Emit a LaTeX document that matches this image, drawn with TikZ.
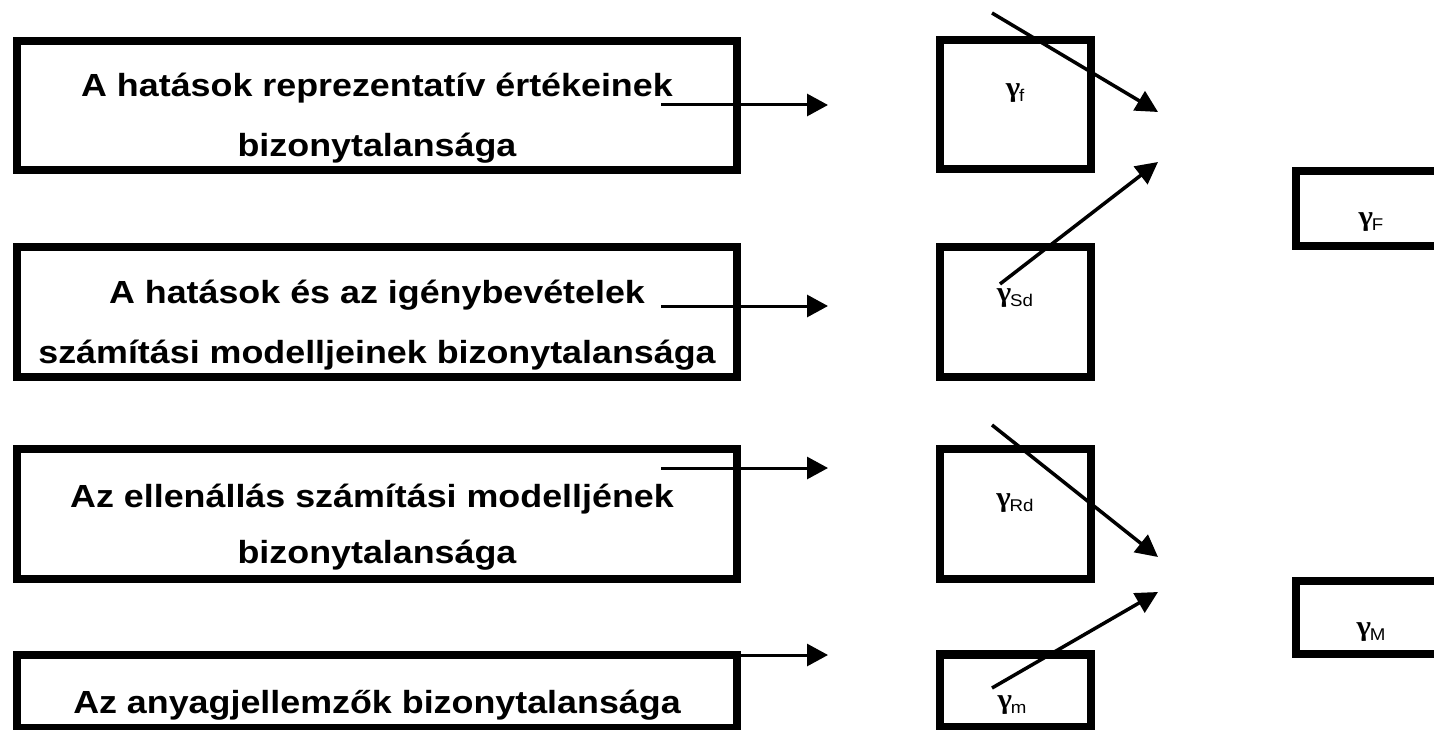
\documentclass[tikz,border=0pt]{standalone}
\usepackage{fontspec}
\setmainfont{Liberation Sans}
\newfontfamily\gammafont{Liberation Serif}
\usetikzlibrary{arrows.meta}
\newcommand{\widetxt}[1]{\scalebox{1.12}[1]{#1}}
\newcommand{\gsym}[1]{\scalebox{1.1}[1]{{\gammafont\fontsize{28}{28}\selectfont\bfseries γ}\kern-1pt\raisebox{-5pt}{\fontsize{17}{17}\selectfont #1}}}
\begin{document}
\begin{tikzpicture}[x=1pt,y=-1pt,
  box/.style={draw=black, line width=8.5pt, inner sep=0pt, outer sep=0pt},
  txt/.style={font=\fontsize{32}{32}\selectfont\bfseries, inner sep=0pt, anchor=base},
  glab/.style={inner sep=0pt},
  harr/.style={line width=3pt, -{Triangle[length=21pt,width=22pt]}},
  darr/.style={line width=3.5pt, -{Triangle[length=22pt,width=22pt]}}]
\useasboundingbox (0,0) rectangle (1434,730);
\fill[white] (0,0) rectangle (1434,730);
\clip (0,0) rectangle (1434,730);

% left boxes
\node[box, minimum width=720pt, minimum height=129pt] (L1) at (377,105.5) {};
\node[box, minimum width=720pt, minimum height=130pt] (L2) at (377,312) {};
\node[box, minimum width=720pt, minimum height=130pt] (L3) at (377,514) {};
\node[box, minimum width=720pt, minimum height=73pt] (L4) at (377,691.5) {};

% gamma boxes
\node[box, minimum width=151pt, minimum height=129pt] (G1) at (1015.5,104.5) {};
\node[box, minimum width=151pt, minimum height=130pt] (G2) at (1015.5,312) {};
\node[box, minimum width=151pt, minimum height=130pt] (G3) at (1015.5,514) {};
\node[box, minimum width=151pt, minimum height=73pt] (G4) at (1015.5,691) {};

% right boxes
\node[box, minimum width=204pt, minimum height=75pt] (R1) at (1398,208.5) {};
\node[box, minimum width=204pt, minimum height=73pt] (R2) at (1398,617.5) {};

% texts
\node[txt] (t1a) at (377,97) {\widetxt{A hatások reprezentatív értékeinek}};
\node[txt] (t1b) at (377,157) {\widetxt{bizonytalansága}};
\node[txt] (t2a) at (377,303) {\widetxt{A hatások és az igénybevételek}};
\node[txt] (t2b) at (377,363) {\widetxt{számítási modelljeinek bizonytalansága}};
\node[txt] (t3a) at (372,507) {\widetxt{Az ellenállás számítási modelljének}};
\node[txt] (t3b) at (377,563) {\widetxt{bizonytalansága}};
\node[txt] (t4a) at (377,713) {\widetxt{Az anyagjellemzők bizonytalansága}};

% gamma labels
\node[glab] (gf) at (1015,93) {\gsym{f}};
\node[glab] (gSd) at (1015,298) {\gsym{Sd}};
\node[glab] (gRd) at (1015,503) {\gsym{Rd}};
\node[glab] (gm) at (1012,705) {\gsym{m}};
\node[glab] (gF) at (1371,222) {\gsym{F}};
\node[glab] (gM) at (1371,632) {\gsym{M}};

% coordinates for arrows
\coordinate (h1s) at (661,105);  \coordinate (h1e) at (828,105);
\coordinate (h2s) at (661,306);  \coordinate (h2e) at (828,306);
\coordinate (h3s) at (661,468);  \coordinate (h3e) at (828,468);
\coordinate (h4s) at (661,655);  \coordinate (h4e) at (828,655);
\coordinate (d1s) at (992,13);   \coordinate (d1e) at (1158,112);
\coordinate (d2s) at (1000,284); \coordinate (d2e) at (1158,162);
\coordinate (d3s) at (992,425);  \coordinate (d3e) at (1158,557);
\coordinate (d4s) at (992,688);  \coordinate (d4e) at (1158,592);

\draw[harr] (h1s) -- (h1e);
\draw[harr] (h2s) -- (h2e);
\draw[harr] (h3s) -- (h3e);
\draw[harr] (h4s) -- (h4e);
\draw[darr] (d1s) -- (d1e);
\draw[darr] (d2s) -- (d2e);
\draw[darr] (d3s) -- (d3e);
\draw[darr] (d4s) -- (d4e);
\end{tikzpicture}
\end{document}
